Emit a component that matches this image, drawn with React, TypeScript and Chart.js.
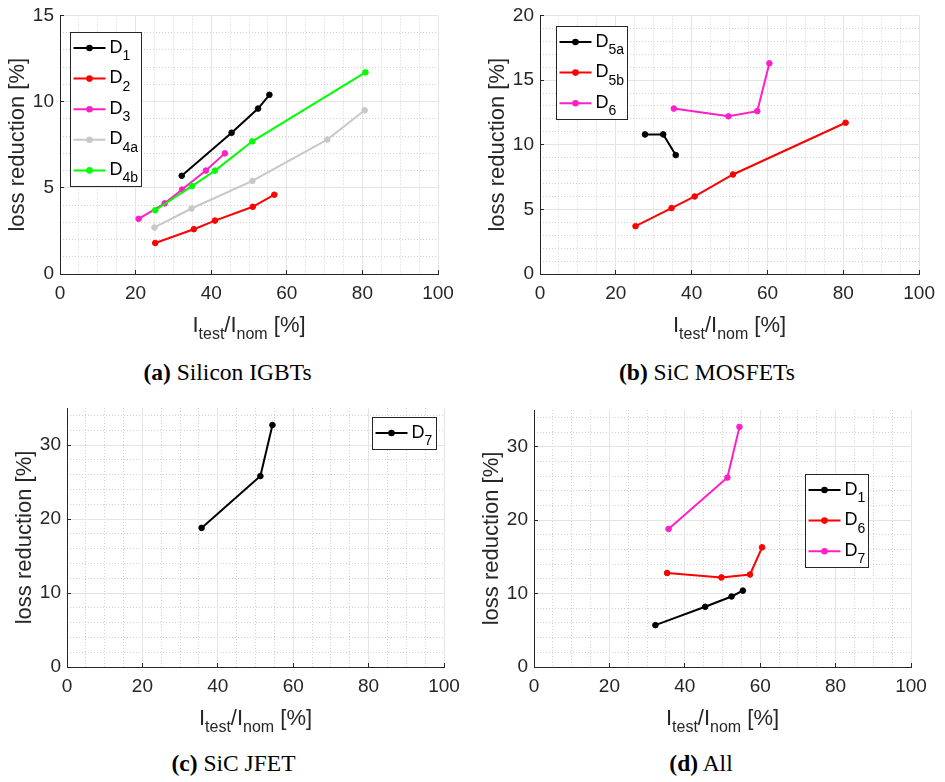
import React, { useEffect, useRef } from 'react';
import { Chart, registerables } from 'chart.js';

Chart.register(...registerables);

// ---------------- data ----------------
const xMin = 0;
const xMax = 100;
const xStep = 20;
const xMinorStep = 5;

// (a) Silicon IGBTs
const aD1X = [32.2, 45.4, 52.4, 55.4];
const aD1Y = [5.7, 8.2, 9.6, 10.4];
const aD2X = [25.2, 35.4, 41.0, 51.0, 56.7];
const aD2Y = [1.8, 2.6, 3.1, 3.9, 4.6];
const aD3X = [20.8, 27.7, 32.3, 38.6, 43.6];
const aD3Y = [3.2, 4.1, 4.9, 6.0, 7.0];
const aD4aX = [25.0, 34.8, 50.9, 70.7, 80.6];
const aD4aY = [2.7, 3.8, 5.4, 7.8, 9.5];
const aD4bX = [25.2, 34.9, 41.0, 50.9, 80.8];
const aD4bY = [3.7, 5.1, 6.0, 7.7, 11.7];

// (b) SiC MOSFETs
const bD5aX = [27.7, 32.5, 35.8];
const bD5aY = [10.8, 10.8, 9.2];
const bD5bX = [25.2, 34.7, 40.8, 50.9, 80.6];
const bD5bY = [3.7, 5.1, 6.0, 7.7, 11.7];
const bD6X = [35.3, 49.7, 57.3, 60.5];
const bD6Y = [12.8, 12.2, 12.6, 16.3];

// (c) SiC JFET
const cD7X = [35.7, 51.3, 54.5];
const cD7Y = [18.8, 25.8, 32.7];

// (d) All (same measurements)
const dD1X = aD1X;
const dD1Y = aD1Y;
const dD6X = bD6X;
const dD6Y = bD6Y;
const dD7X = cD7X;
const dD7Y = cD7Y;

const captionLabels = ['(a)', '(b)', '(c)', '(d)'];
const captionTexts = ['Silicon IGBTs', 'SiC MOSFETs', 'SiC JFET', 'All'];
const yTitle = 'loss reduction [%]';

// ---------------- style ----------------
const FONT = '"Liberation Sans", Arial, Helvetica, sans-serif';
const SERIF = '"Liberation Serif", "Times New Roman", Times, serif';
const TEXT = '#262626';
const AXIS = '#262626';
const GRID_MAJOR = '#e4e4e4';
const GRID_MINOR = '#d2d2d2';
const BLACK = '#000000';
const RED = '#ff0000';
const MAGENTA = '#ff1ec8';
const GREY = '#c8c8c8';
const GREEN = '#00ff00';

type Series = { sub: string; xs: number[]; ys: number[]; color: string };
type PanelCfg = {
  box: { left: number; top: number; width: number; height: number };
  area: { l: number; t: number; r: number; b: number };
  yMax: number;
  yStep: number;
  yMinor: number;
  series: Series[];
  legend: { x: number; y: number; w: number };
};

const panels: PanelCfg[] = [
  {
    box: { left: 0, top: 0, width: 472, height: 350 },
    area: { l: 60, t: 14, r: 438, b: 274 },
    yMax: 15,
    yStep: 5,
    yMinor: 1,
    series: [
      { sub: '1', xs: aD1X, ys: aD1Y, color: BLACK },
      { sub: '2', xs: aD2X, ys: aD2Y, color: RED },
      { sub: '3', xs: aD3X, ys: aD3Y, color: MAGENTA },
      { sub: '4a', xs: aD4aX, ys: aD4aY, color: GREY },
      { sub: '4b', xs: aD4bX, ys: aD4bY, color: GREEN },
    ],
    legend: { x: 70, y: 32, w: 71 },
  },
  {
    box: { left: 472, top: 0, width: 473, height: 350 },
    area: { l: 68, t: 10, r: 450, b: 274 },
    yMax: 20,
    yStep: 5,
    yMinor: 1,
    series: [
      { sub: '5a', xs: bD5aX, ys: bD5aY, color: BLACK },
      { sub: '5b', xs: bD5bX, ys: bD5bY, color: RED },
      { sub: '6', xs: bD6X, ys: bD6Y, color: MAGENTA },
    ],
    legend: { x: 84, y: 26, w: 71 },
  },
  {
    box: { left: 0, top: 391, width: 472, height: 350 },
    area: { l: 67, t: 17, r: 444, b: 276 },
    yMax: 35,
    yStep: 10,
    yMinor: 2,
    series: [{ sub: '7', xs: cD7X, ys: cD7Y, color: BLACK }],
    legend: { x: 372, y: 26, w: 64 },
  },
  {
    box: { left: 472, top: 391, width: 473, height: 350 },
    area: { l: 62, t: 19, r: 439, b: 276 },
    yMax: 35,
    yStep: 10,
    yMinor: 2,
    series: [
      { sub: '1', xs: dD1X, ys: dD1Y, color: BLACK },
      { sub: '6', xs: dD6X, ys: dD6Y, color: RED },
      { sub: '7', xs: dD7X, ys: dD7Y, color: MAGENTA },
    ],
    legend: { x: 333, y: 83, w: 63 },
  },
];

const captionPos = [
  { cx: 227.5, baseline: 380 },
  { cx: 707, baseline: 380 },
  { cx: 233.5, baseline: 771 },
  { cx: 701, baseline: 771 },
];

// ---------------- helpers ----------------
type Part = { t: string; sub?: boolean };

function richWidth(ctx: CanvasRenderingContext2D, parts: Part[], main: number, sub: number) {
  let w = 0;
  for (const p of parts) {
    ctx.font = `${p.sub ? sub : main}px ${FONT}`;
    w += ctx.measureText(p.t).width;
  }
  return w;
}

function drawRich(
  ctx: CanvasRenderingContext2D,
  parts: Part[],
  x: number,
  y: number,
  main: number,
  sub: number,
  subDy: number,
  align: 'left' | 'center'
) {
  let cx = x;
  if (align === 'center') cx = x - richWidth(ctx, parts, main, sub) / 2;
  ctx.textAlign = 'left';
  ctx.textBaseline = 'alphabetic';
  for (const p of parts) {
    ctx.font = `${p.sub ? sub : main}px ${FONT}`;
    ctx.fillText(p.t, cx, p.sub ? y + subDy : y);
    cx += ctx.measureText(p.t).width;
  }
}

const align = (v: number) => Math.round(v - 0.5) + 0.5;

function makeDecor(cfg: PanelCfg) {
  return {
    id: 'decor',
    beforeDraw(chart: any) {
      const { ctx, chartArea: a } = chart;
      const xs = chart.scales.x;
      const ys = chart.scales.y;
      ctx.save();
      ctx.strokeStyle = GRID_MINOR;
      ctx.lineWidth = 1;
      ctx.setLineDash([1, 2]);
      for (let v = xMin + xMinorStep; v < xMax; v += xMinorStep) {
        if (v % xStep === 0) continue;
        const px = align(xs.getPixelForValue(v));
        ctx.beginPath();
        ctx.moveTo(px, a.top);
        ctx.lineTo(px, a.bottom);
        ctx.stroke();
      }
      for (let v = cfg.yMinor; v < cfg.yMax; v += cfg.yMinor) {
        if (v % cfg.yStep === 0) continue;
        const py = align(ys.getPixelForValue(v));
        ctx.beginPath();
        ctx.moveTo(a.left, py);
        ctx.lineTo(a.right, py);
        ctx.stroke();
      }
      ctx.restore();
    },
    afterDraw(chart: any) {
      const { ctx, chartArea: a } = chart;
      const xs = chart.scales.x;
      const ys = chart.scales.y;
      ctx.save();
      // inward tick marks
      ctx.strokeStyle = AXIS;
      ctx.lineWidth = 1;
      for (const t of xs.ticks) {
        const px = align(xs.getPixelForValue(t.value));
        ctx.beginPath();
        ctx.moveTo(px, a.bottom);
        ctx.lineTo(px, a.bottom - 4);
        ctx.stroke();
      }
      for (const t of ys.ticks) {
        const py = align(ys.getPixelForValue(t.value));
        ctx.beginPath();
        ctx.moveTo(a.left, py);
        ctx.lineTo(a.left + 4, py);
        ctx.stroke();
      }
      // axis titles
      ctx.fillStyle = TEXT;
      drawRich(
        ctx,
        [{ t: 'I' }, { t: 'test', sub: true }, { t: '/I' }, { t: 'nom', sub: true }, { t: ' [%]' }],
        (a.left + a.right) / 2,
        a.bottom + 57.5,
        22,
        16,
        7.5,
        'center'
      );
      ctx.save();
      ctx.translate(a.left - 36, (a.top + a.bottom) / 2);
      ctx.rotate(-Math.PI / 2);
      ctx.font = `22px ${FONT}`;
      ctx.textAlign = 'center';
      ctx.textBaseline = 'alphabetic';
      ctx.fillText(yTitle, 0, 0);
      ctx.restore();
      // legend
      const L = cfg.legend;
      const n = cfg.series.length;
      const spacing = 30.6;
      const h = 32 + (n - 1) * spacing;
      ctx.fillStyle = '#ffffff';
      ctx.fillRect(L.x, L.y, L.w, h);
      ctx.strokeStyle = AXIS;
      ctx.lineWidth = 1;
      ctx.strokeRect(Math.round(L.x) + 0.5, Math.round(L.y) + 0.5, Math.round(L.w), Math.round(h));
      chart.data.datasets.forEach((ds: any, i: number) => {
        const cy = L.y + 16 + i * spacing;
        ctx.strokeStyle = ds.borderColor;
        ctx.lineWidth = 2;
        ctx.beginPath();
        ctx.moveTo(L.x + 3.5, cy);
        ctx.lineTo(L.x + 35.5, cy);
        ctx.stroke();
        ctx.fillStyle = ds.borderColor;
        ctx.beginPath();
        ctx.arc(L.x + 19.5, cy, 3.3, 0, Math.PI * 2);
        ctx.fill();
        ctx.fillStyle = BLACK;
        drawRich(ctx, [{ t: 'D' }, { t: cfg.series[i].sub, sub: true }], L.x + 39.5, cy + 4.6, 18, 14, 7.3, 'left');
      });
      ctx.restore();
    },
  };
}

function Panel({ cfg }: { cfg: PanelCfg }) {
  const ref = useRef<HTMLCanvasElement>(null);
  useEffect(() => {
    const canvas = ref.current!;
    const n = cfg.series.length;
    const chart = new Chart(canvas, {
      type: 'line',
      data: {
        datasets: cfg.series.map((s, i) => ({
          label: 'D' + s.sub,
          data: s.xs.map((x, k) => ({ x, y: s.ys[k] })),
          borderColor: s.color,
          backgroundColor: s.color,
          pointBackgroundColor: s.color,
          pointBorderColor: s.color,
          pointRadius: 2.8,
          pointBorderWidth: 1,
          borderWidth: 2,
          tension: 0,
          fill: false,
          order: n - i,
          clip: false as any,
        })),
      },
      options: {
        responsive: false,
        animation: false,
        devicePixelRatio: 1,
        events: [],
        layout: {
          padding: { left: 0, top: cfg.area.t, right: cfg.box.width - cfg.area.r, bottom: 0 },
        },
        plugins: {
          legend: { display: false },
          tooltip: { enabled: false },
          title: { display: false },
        },
        scales: {
          x: {
            type: 'linear',
            position: 'bottom',
            min: xMin,
            max: xMax,
            ticks: {
              stepSize: xStep,
              color: TEXT,
              font: { family: FONT, size: 19, lineHeight: 1 },
              padding: 10,
              maxRotation: 0,
              autoSkip: false,
            },
            grid: {
              color: (c: any) => (c.tick && c.tick.value === xMin ? 'rgba(0,0,0,0)' : GRID_MAJOR),
              drawTicks: false,
              lineWidth: 1,
            },
            border: { display: true, color: AXIS, width: 1 },
            afterFit: (s: any) => {
              s.height = cfg.box.height - cfg.area.b;
            },
          },
          y: {
            type: 'linear',
            position: 'left',
            min: 0,
            max: cfg.yMax,
            ticks: {
              stepSize: cfg.yStep,
              includeBounds: false,
              color: TEXT,
              font: { family: FONT, size: 19, lineHeight: 1 },
              padding: 6,
              autoSkip: false,
            },
            grid: {
              color: (c: any) => (c.tick && c.tick.value === 0 ? 'rgba(0,0,0,0)' : GRID_MAJOR),
              drawTicks: false,
              lineWidth: 1,
            },
            border: { display: true, color: AXIS, width: 1 },
            afterFit: (s: any) => {
              s.width = cfg.area.l;
            },
          },
        },
      } as any,
      plugins: [makeDecor(cfg)],
    });
    return () => chart.destroy();
  }, [cfg]);
  return (
    <canvas
      ref={ref}
      width={cfg.box.width}
      height={cfg.box.height}
      style={{
        position: 'absolute',
        left: cfg.box.left,
        top: cfg.box.top,
        width: cfg.box.width,
        height: cfg.box.height,
      }}
    />
  );
}

export default function App() {
  return (
    <div
      style={{
        position: 'absolute',
        left: 0,
        top: 0,
        width: 945,
        height: 782,
        background: '#ffffff',
        overflow: 'hidden',
      }}
    >
      {panels.map((p, i) => (
        <Panel key={i} cfg={p} />
      ))}
      {captionPos.map((c, i) => (
        <div
          key={'cap' + i}
          style={{
            position: 'absolute',
            left: c.cx - 200,
            width: 400,
            top: c.baseline - 20,
            textAlign: 'center',
            fontFamily: SERIF,
            fontSize: 23.5,
            lineHeight: '24px',
            whiteSpace: 'nowrap',
            color: '#000',
          }}
        >
          <b>{captionLabels[i]}</b> {captionTexts[i]}
        </div>
      ))}
    </div>
  );
}
